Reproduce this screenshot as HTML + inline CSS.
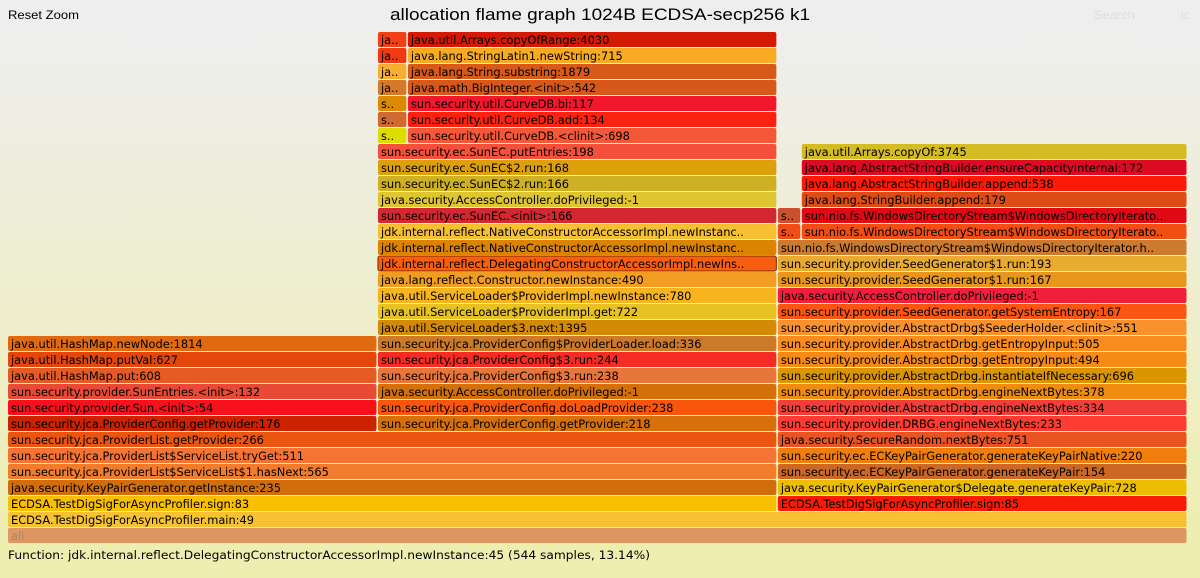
<!DOCTYPE html>
<html><head><meta charset="utf-8">
<style>
html,body{margin:0;padding:0;width:1200px;height:578px;overflow:hidden;}
svg{display:block;}
</style></head>
<body>
<svg id="fg" width="1200" height="578" xmlns="http://www.w3.org/2000/svg">
<defs><linearGradient id="bg" x1="0" y1="0" x2="0" y2="1"><stop offset="5%" stop-color="#eeeeee"/><stop offset="95%" stop-color="#eeeeb0"/></linearGradient></defs>
<rect x="0" y="0" width="1200" height="578" fill="url(#bg)"/>
<text x="390" y="20" textLength="420" lengthAdjust="spacingAndGlyphs" font-family="Liberation Sans, sans-serif" font-size="17" fill="#000">allocation flame graph 1024B ECDSA-secp256 k1</text>
<text x="8" y="19" textLength="71" lengthAdjust="spacingAndGlyphs" font-family="Liberation Sans, sans-serif" font-size="12" fill="#000">Reset Zoom</text>
<text x="1094" y="19" textLength="41" lengthAdjust="spacingAndGlyphs" font-family="Liberation Sans, sans-serif" font-size="12" fill="#dddddd">Search</text>
<text x="1181" y="19" font-family="Liberation Sans, sans-serif" font-size="12" fill="#dddddd">ic</text>
<text x="8" y="559" textLength="642" lengthAdjust="spacingAndGlyphs" font-family="DejaVu Sans, sans-serif" font-size="11.6" fill="#000">Function: jdk.internal.reflect.DelegatingConstructorAccessorImpl.newInstance:45 (544 samples, 13.14%)</text>
<g id="frames"></g>
</svg>
<script>
const totalSamples = 4140;
const frameDepths = [0,1,2,2,3,3,4,4,5,5,6,6,7,7,7,8,8,8,9,9,9,10,10,10,11,11,11,12,12,12,13,13,14,14,15,15,16,16,17,17,18,18,19,19,19,20,20,20,21,21,22,22,23,23,24,24,25,25,26,26,27,27,28,28,29,29,30,30,31,31];
const frameStarts = [0,0,0,2701,0,2701,0,2701,0,2701,0,2701,0,1298,2701,0,1298,2701,0,1298,2701,0,1298,2701,0,1298,2701,0,1298,2701,1298,2701,1298,2701,1298,2701,1298,2701,1298,2701,1298,2701,1298,2701,2785,1298,2701,2785,1298,2785,1298,2785,1298,2785,1298,2785,1298,1403,1298,1403,1298,1403,1298,1403,1298,1403,1298,1403,1298,1403];
const frameSamples = [4140,4140,2701,1439,2701,1439,2701,1439,2701,1439,2701,1439,1298,1403,1439,1298,1403,1439,1298,1403,1439,1298,1403,1439,1298,1403,1439,1298,1403,1439,1403,1439,1403,1439,1403,1439,1403,1439,1403,1439,1403,1439,1403,84,1355,1403,84,1355,1403,1355,1403,1355,1403,1355,1403,1355,105,1298,105,1298,105,1298,105,1298,105,1298,105,1298,105,1298];
const frameLabels = ["all","ECDSA.TestDigSigForAsyncProfiler.main:49","ECDSA.TestDigSigForAsyncProfiler.sign:83","ECDSA.TestDigSigForAsyncProfiler.sign:85",
"java.security.KeyPairGenerator.getInstance:235","java.security.KeyPairGenerator$Delegate.generateKeyPair:728",
"sun.security.jca.ProviderList$ServiceList$1.hasNext:565","sun.security.ec.ECKeyPairGenerator.generateKeyPair:154",
"sun.security.jca.ProviderList$ServiceList.tryGet:511","sun.security.ec.ECKeyPairGenerator.generateKeyPairNative:220",
"sun.security.jca.ProviderList.getProvider:266","java.security.SecureRandom.nextBytes:751",
"sun.security.jca.ProviderConfig.getProvider:176","sun.security.jca.ProviderConfig.getProvider:218","sun.security.provider.DRBG.engineNextBytes:233",
"sun.security.provider.Sun.<init>:54","sun.security.jca.ProviderConfig.doLoadProvider:238","sun.security.provider.AbstractDrbg.engineNextBytes:334",
"sun.security.provider.SunEntries.<init>:132","java.security.AccessController.doPrivileged:-1","sun.security.provider.AbstractDrbg.engineNextBytes:378",
"java.util.HashMap.put:608","sun.security.jca.ProviderConfig$3.run:238","sun.security.provider.AbstractDrbg.instantiateIfNecessary:696",
"java.util.HashMap.putVal:627","sun.security.jca.ProviderConfig$3.run:244","sun.security.provider.AbstractDrbg.getEntropyInput:494",
"java.util.HashMap.newNode:1814","sun.security.jca.ProviderConfig$ProviderLoader.load:336","sun.security.provider.AbstractDrbg.getEntropyInput:505",
"java.util.ServiceLoader$3.next:1395","sun.security.provider.AbstractDrbg$SeederHolder.<clinit>:551",
"java.util.ServiceLoader$ProviderImpl.get:722","sun.security.provider.SeedGenerator.getSystemEntropy:167",
"java.util.ServiceLoader$ProviderImpl.newInstance:780","java.security.AccessController.doPrivileged:-1",
"java.lang.reflect.Constructor.newInstance:490","sun.security.provider.SeedGenerator$1.run:167",
"jdk.internal.reflect.DelegatingConstructorAccessorImpl.newIns..","sun.security.provider.SeedGenerator$1.run:193",
"jdk.internal.reflect.NativeConstructorAccessorImpl.newInstanc..","sun.nio.fs.WindowsDirectoryStream$WindowsDirectoryIterator.h..",
"jdk.internal.reflect.NativeConstructorAccessorImpl.newInstanc..","s..","sun.nio.fs.WindowsDirectoryStream$WindowsDirectoryIterato..",
"sun.security.ec.SunEC.<init>:166","s..","sun.nio.fs.WindowsDirectoryStream$WindowsDirectoryIterato..",
"java.security.AccessController.doPrivileged:-1","java.lang.StringBuilder.append:179",
"sun.security.ec.SunEC$2.run:166","java.lang.AbstractStringBuilder.append:538",
"sun.security.ec.SunEC$2.run:168","java.lang.AbstractStringBuilder.ensureCapacityInternal:172",
"sun.security.ec.SunEC.putEntries:198","java.util.Arrays.copyOf:3745",
"s..","sun.security.util.CurveDB.<clinit>:698","s..","sun.security.util.CurveDB.add:134","s..","sun.security.util.CurveDB.bi:117",
"ja..","java.math.BigInteger.<init>:542","ja..","java.lang.String.substring:1879","ja..","java.lang.StringLatin1.newString:715","ja..","java.util.Arrays.copyOfRange:4030"];
const frameColors = ["#df9660","#f7c231","#f8bf00","#f81c06","#d26e0a","#ecbd00","#f07c2c","#cc6824","#f57434","#f07e0c","#ea5610","#ea5422",
"#cc2200","#d6700a","#fc3c30","#f8101c","#f8560c","#f23e38","#e84a36","#d47008","#ef8c10","#e45b26","#e8763a","#dc9400",
"#e4460c","#f42c24","#f58a14","#e06a12","#cc7a28","#f88c1c","#d48a04","#f8922c","#e8c222","#fa5612","#f8b41e","#f0203c",
"#f09d22","#e8961c","#f85e10","#e8aa30","#dc8400","#cc7a2e","#f7c033","#f04c14","#f04e12","#d42830","#cc5030","#e00a14",
"#dfc630","#dd4c14","#ceb022","#fa1a06","#dca00a","#dc0a22","#f5503a","#d4bc22","#dddd00","#f45838","#d06a30","#fc2210",
"#dc8a04","#f0182a","#d47a2a","#d8581a","#f8ae30","#d85a16","#f03a14","#f8aa22","#f04016","#d41a04"];

const NS = "http://www.w3.org/2000/svg";
const X0 = 8, PLOT_W = 1180, BASE_Y = 528, ROW_H = 16;
function xScale(s){ return X0 + s * PLOT_W / totalSamples; }
function yScale(d){ return BASE_Y - d * ROW_H; }
const g = document.getElementById('frames');
for (let i = 0; i < frameLabels.length; i++) {
  const x = xScale(frameStarts[i]);
  const w = xScale(frameStarts[i] + frameSamples[i]) - x - 1.5;
  const y = yScale(frameDepths[i]);
  const grp = document.createElementNS(NS, 'g');
  
  
  const r = document.createElementNS(NS, 'rect');
  r.setAttribute('x', x); r.setAttribute('y', y);
  r.setAttribute('width', w); r.setAttribute('height', 15);
  r.setAttribute('rx', 2); r.setAttribute('fill', frameColors[i]);
  
  
  if (frameLabels[i].indexOf('DelegatingConstructor') >= 0) { r.setAttribute('stroke', '#7a2a00'); r.setAttribute('stroke-width', '1'); }
  grp.appendChild(r);
  const t = document.createElementNS(NS, 'text');
  t.setAttribute('x', x + 3); t.setAttribute('y', y + 12);
  t.setAttribute('font-family', 'DejaVu Sans, sans-serif');
  t.setAttribute('font-size', '11.4');
  t.setAttribute('fill', i === 0 ? '#aa8866' : '#000');
  
  
  t.textContent = frameLabels[i];
  grp.appendChild(t);
  g.appendChild(grp);
}
</script>
</body></html>
